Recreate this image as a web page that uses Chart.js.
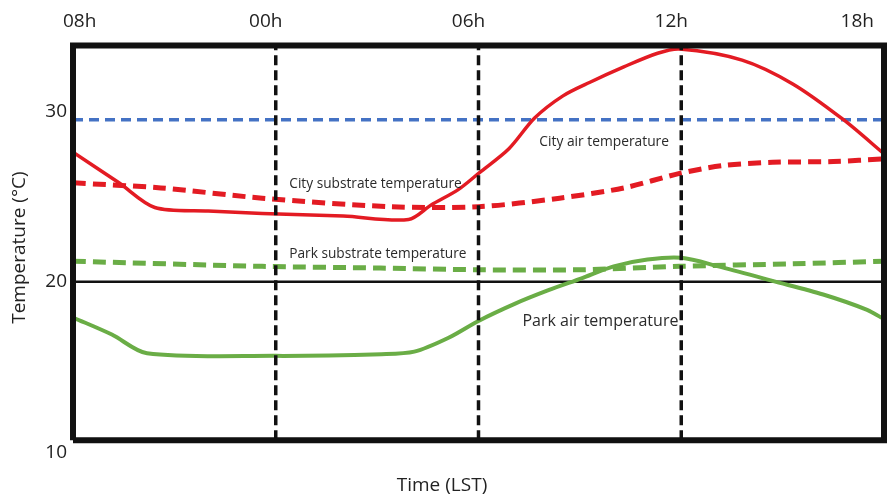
<!DOCTYPE html>
<html>
<head>
<meta charset="utf-8">
<script src="https://cdn.jsdelivr.net/npm/chart.js@4"></script>
<style>
  html, body { margin: 0; padding: 0; background: #fff; }
</style>
</head>
<body>
<canvas id="chart" width="889" height="497"></canvas>
<script>
// axis ticks (hours counted from the left edge of the plot)
const xTickHours = [0, 6, 12, 18, 24];
const xTickLabels = ['08h', '00h', '06h', '12h', '18h'];
const yTickValues = [10, 20, 30];

// city air temperature (red solid)
const cityAirHours = [0, 1.36, 2.42, 4, 5.6, 8, 9.93, 10.6, 11.4, 12.03, 12.9, 13.66, 14.5, 15.3, 16.3, 17.3, 17.95, 19.8, 21.3, 22.8, 24];
const cityAirTemps = [27.6, 25.8, 24.35, 24.15, 24.0, 23.85, 23.65, 24.5, 25.4, 26.4, 27.8, 29.6, 30.9, 31.7, 32.6, 33.4, 33.65, 33.0, 31.6, 29.5, 27.5];

// city substrate temperature (red dashed)
const citySubHours = [0, 2.6, 5.6, 9.4, 12, 14.4, 16.3, 17.95, 19.2, 20.7, 22.5, 24];
const citySubTemps = [25.8, 25.5, 24.9, 24.4, 24.4, 24.9, 25.5, 26.35, 26.8, 27.0, 27.05, 27.2];

// park substrate temperature (green dashed)
const parkSubHours = [0, 5.6, 9.1, 12, 15, 17.95, 21.3, 24];
const parkSubTemps = [21.2, 20.9, 20.8, 20.7, 20.7, 20.9, 21.05, 21.2];

// park air temperature (green solid)
const parkAirHours = [0, 1.15, 2.19, 6, 9.13, 10.1, 11.1, 12, 13.07, 14.07, 15.05, 16, 17, 18, 19.1, 20.7, 22.2, 23.5, 24];
const parkAirTemps = [17.9, 16.9, 15.8, 15.65, 15.75, 15.9, 16.7, 17.7, 18.7, 19.5, 20.2, 20.9, 21.3, 21.4, 20.9, 20.05, 19.25, 18.35, 17.8];

// reference lines and frame
const blueLineTemp = 29.5;
const zeroLineTemp = 20;
const dividerHours = [6, 12, 18];
const frameTemps = [10.7, 33.85];

// curve labels
const curveLabels = ['City air temperature', 'City substrate temperature', 'Park substrate temperature', 'Park air temperature'];
const curveLabelHours = [13.8, 6.4, 6.4, 13.3];
const curveLabelTemps = [28.2, 25.75, 21.6, 17.65];
const curveLabelSizes = [13.8, 13.7, 13.7, 16];

const RED = '#e31b23';
const GREEN = '#6aad46';
const BLUE = '#4472c4';

function pts(xs, ys) {
  return xs.map((x, i) => ({ x: x, y: ys[i] }));
}

const datasets = [
  {
    data: [
      { x: 0, y: frameTemps[0] }, { x: 24, y: frameTemps[0] },
      { x: 24, y: frameTemps[1] }, { x: 0, y: frameTemps[1] },
      { x: 0, y: frameTemps[0] }
    ],
    borderColor: '#111', borderWidth: 6, borderJoinStyle: 'miter', tension: 0, clip: false, order: 0
  },
  { data: pts(cityAirHours, cityAirTemps), borderColor: RED, borderWidth: 3.5, tension: 0.3, order: 2 },
  { data: pts(parkAirHours, parkAirTemps), borderColor: GREEN, borderWidth: 4, tension: 0.3, order: 3 },
  { data: pts(citySubHours, citySubTemps), borderColor: RED, borderWidth: 5, borderDash: [13, 7], tension: 0.3, order: 4 },
  { data: pts(parkSubHours, parkSubTemps), borderColor: GREEN, borderWidth: 5, borderDash: [13, 7], tension: 0.3, order: 5 },
  { data: [{ x: 0, y: blueLineTemp }, { x: 24, y: blueLineTemp }], borderColor: BLUE, borderWidth: 3.5, borderDash: [10, 6], order: 6 },
  { data: [{ x: 0, y: zeroLineTemp }, { x: 24, y: zeroLineTemp }], borderColor: '#111', borderWidth: 2.5, order: 7 }
];

dividerHours.forEach(h => {
  datasets.push({
    data: [{ x: h, y: frameTemps[0] }, { x: h, y: frameTemps[1] }],
    borderColor: '#111', borderWidth: 3.5, borderDash: [10, 5], order: 1
  });
});

const curveLabelPlugin = {
  id: 'curveLabels',
  afterDatasetsDraw: (chart) => {
    const ctx = chart.ctx;
    const xs = chart.scales.x;
    const ys = chart.scales.y;
    ctx.save();
    ctx.fillStyle = '#2a2a2a';
    ctx.textAlign = 'left';
    ctx.textBaseline = 'middle';
    curveLabels.forEach((txt, i) => {
      ctx.font = `${curveLabelSizes[i]}px "Open Sans"`;
      ctx.fillText(txt, xs.getPixelForValue(curveLabelHours[i]), ys.getPixelForValue(curveLabelTemps[i]));
    });
    ctx.restore();
  }
};

new Chart(document.getElementById('chart'), {
  type: 'line',
  data: { datasets: datasets },
  plugins: [curveLabelPlugin],
  options: {
    responsive: false,
    animation: false,
    layout: { padding: { left: 0, right: 5, top: 0, bottom: 0 } },
    elements: { point: { radius: 0 }, line: { fill: false } },
    plugins: {
      legend: { display: false },
      tooltip: { enabled: false },
      title: {
        display: true,
        position: 'bottom',
        text: 'Time (LST)',
        color: '#222',
        font: { family: 'Open Sans', size: 19, weight: 'normal' },
        padding: { top: 22, bottom: 0 }
      }
    },
    scales: {
      x: {
        type: 'linear',
        position: 'top',
        min: 0,
        max: 24,
        grid: { display: false, drawTicks: false },
        border: { display: false },
        afterBuildTicks: (scale) => { scale.ticks = xTickHours.map(v => ({ value: v })); },
        afterFit: (scale) => { scale.height = 43; scale.paddingLeft = 0; scale.paddingRight = 0; },
        ticks: {
          align: 'inner',
          labelOffset: -10,
          padding: 10,
          color: '#222',
          font: { family: 'Open Sans', size: 19 },
          callback: (v, i) => xTickLabels[i]
        }
      },
      y: {
        type: 'linear',
        min: 10,
        max: 34,
        grid: { display: false, drawTicks: false },
        border: { display: false },
        afterBuildTicks: (scale) => { scale.ticks = yTickValues.map(v => ({ value: v })); },
        afterFit: (scale) => { scale.width = 73; },
        ticks: {
          padding: 6,
          color: '#222',
          font: { family: 'Open Sans', size: 19 }
        },
        title: {
          display: true,
          text: 'Temperature (°C)',
          color: '#222',
          font: { family: 'Open Sans', size: 19 },
          padding: { top: 8, bottom: 0 }
        }
      }
    }
  }
});
</script>
</body>
</html>
